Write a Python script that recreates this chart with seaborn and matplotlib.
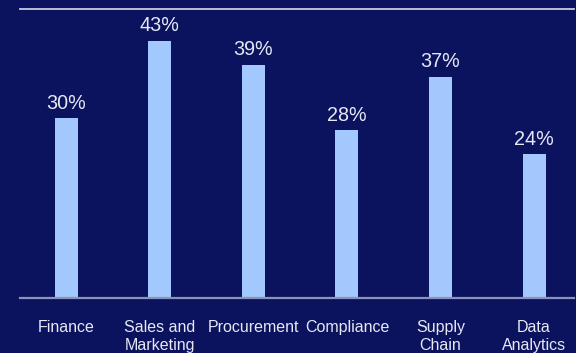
import matplotlib
matplotlib.use("Agg")
import matplotlib.pyplot as plt
import seaborn as sns
import pandas as pd

# Share of respondents by business function
functions = ["Finance", "Sales and\nMarketing", "Procurement", "Compliance",
             "Supply\nChain", "Data\nAnalytics"]
shares = [30, 43, 39, 28, 37, 24]

BG = "#0b135e"
BAR = "#a3c8fd"
TEXT = "#e6e8f4"

sns.set_theme(style="white")
plt.rcParams["font.family"] = ["Liberation Sans", "DejaVu Sans"]

df = pd.DataFrame({"function": functions, "share": shares})

fig = plt.figure(figsize=(5.76, 3.53), dpi=100, facecolor=BG)
ax = fig.add_axes([0.034, 0.155, 0.963, 0.82])
ax.set_facecolor(BG)

sns.barplot(data=df, x="function", y="share", color=BAR, width=0.246,
            saturation=1, linewidth=0, ax=ax)

for container in ax.containers:
    ax.bar_label(container, labels=[f"{v}%" for v in shares], padding=4,
                 color=TEXT, fontsize=14.2)

ax.set_ylim(0, 48.3)
ax.set_xlim(-0.5, 5.43)
ax.set_xlabel("")
ax.set_ylabel("")
ax.set_yticks([])

for side in ["left", "right"]:
    ax.spines[side].set_visible(False)
ax.spines["top"].set_color("#c9cbe2")
ax.spines["top"].set_linewidth(1.3)
ax.spines["bottom"].set_color("#8d92b8")
ax.spines["bottom"].set_linewidth(1.6)

ax.tick_params(axis="x", length=0, pad=15.5, labelsize=11.5, labelcolor=TEXT)
for lbl in ax.get_xticklabels():
    lbl.set_linespacing(1.27)

fig.savefig("out.png", dpi=100, facecolor=BG)
